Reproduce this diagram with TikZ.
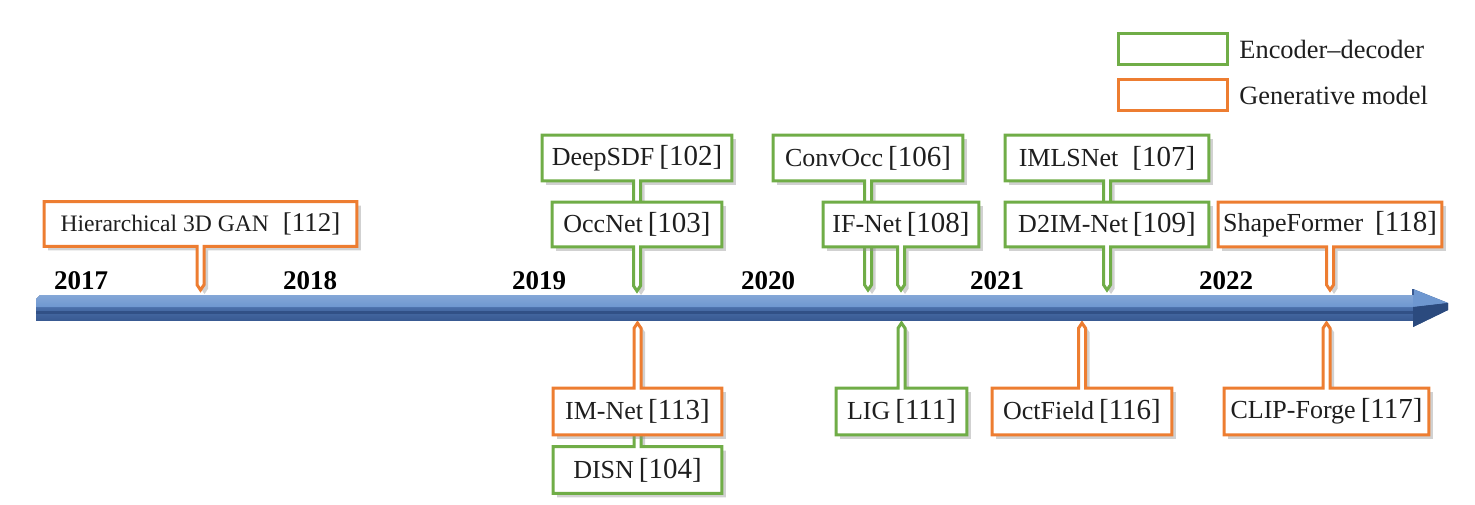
\documentclass[tikz,border=0pt]{standalone}
\usepackage{fontspec}
\setmainfont{Liberation Serif}
\usetikzlibrary{backgrounds,shadows}
\definecolor{cgreen}{HTML}{70AD47}
\definecolor{corange}{HTML}{ED7D31}
\definecolor{blight}{HTML}{6E97D0}
\definecolor{bmid}{HTML}{4A6FAA}
\definecolor{bdark}{HTML}{395A92}
\definecolor{bdeep}{HTML}{2B4A7E}
\definecolor{txt}{HTML}{1E1E1E}
\newcommand\mname[1]{{\fontsize{13}{15}\selectfont #1}}
\newcommand\mref[1]{{\fontsize{14.5}{16}\selectfont #1}}
% callout pointing down: node, colour, tip
\newcommand\calldown[3]{%
  \draw[callout, draw=#2] (#1.north west) -- (#1.north east) -- (#1.south east)
    -- ([xshift=1.75pt]#1.south) -- ([xshift=1.75pt,yshift=2.6pt]#3) -- (#3)
    -- ([xshift=-1.75pt,yshift=2.6pt]#3) -- ([xshift=-1.75pt]#1.south)
    -- (#1.south west) -- cycle;}
% callout pointing up: node, colour, tip
\newcommand\callup[3]{%
  \draw[callout, draw=#2] (#1.south west) -- (#1.south east) -- (#1.north east)
    -- ([xshift=1.75pt]#1.north) -- ([xshift=1.75pt,yshift=-2.6pt]#3) -- (#3)
    -- ([xshift=-1.75pt,yshift=-2.6pt]#3) -- ([xshift=-1.75pt]#1.north)
    -- (#1.north west) -- cycle;}
\begin{document}
\begin{tikzpicture}[x=0.5pt,y=-0.5pt,
  cbox/.style={inner sep=0pt, text=txt},
  callout/.style={line width=1.5pt, fill=white, line join=miter,
    drop shadow={shadow xshift=2pt, shadow yshift=-2pt, fill=black!45, opacity=.4}},
  year/.style={font=\bfseries\fontsize{13.5}{15}\selectfont, text=black, inner sep=0pt},
  legbox/.style={line width=1.5pt, fill=white, minimum width=54.5pt, minimum height=15.5pt, inner sep=0pt},
  legtext/.style={font=\fontsize{13.2}{15}\selectfont, text=txt, anchor=west, inner sep=0pt}]
\useasboundingbox (0,0) rectangle (1475,504);

% ---- timeline arrow ----
\fill[bdark] (36,299) -- (40,295) -- (1413,295) -- (1413,289) -- (1448,303) -- (1448,310)
  -- (1413,327) -- (1413,320) -- (36,320) -- cycle;
\shade[top color=bmid, bottom color=bdark] (36,307) rectangle (1413,320);
\fill[bdeep!60!bdark] (36,311) rectangle (1413,313.5);
\shade[top color=blight!85!white, bottom color=blight] (36,299) -- (40,295) -- (1413,295) -- (1413,307) -- (36,307) -- cycle;
\fill[blight] (1413,289) -- (1448,303) -- (1415,307) -- (1413,307) -- cycle;
\draw[bdark, line width=0.6pt] (1413,289) -- (1413,295);
\fill[bdeep] (1413,307) -- (1448,303) -- (1448,310) -- (1413,327) -- cycle;

% ---- years ----
\node[year] (y2017) at (81,281) {2017};
\node[year] (y2018) at (310,281) {2018};
\node[year] (y2019) at (539,281) {2019};
\node[year] (y2020) at (768,281) {2020};
\node[year] (y2021) at (997,281) {2021};
\node[year] (y2022) at (1226,281) {2022};

% ---- tips on the timeline ----
\coordinate (t-hgan) at (200.5,290);
\coordinate (t-occnet) at (637,291);
\coordinate (t-convocc) at (868,290);
\coordinate (t-ifnet) at (901,290);
\coordinate (t-d2im) at (1107,290);
\coordinate (t-shape) at (1330,290);
\coordinate (t-imnet) at (637.5,323);
\coordinate (t-lig) at (901.5,323);
\coordinate (t-oct) at (1082,323);
\coordinate (t-clip) at (1326.5,323);

% ---- text nodes ----
\node[cbox, minimum width=156pt, minimum height=22pt] (hgan) at (200.5,224)
  {{\fontsize{11.8}{14}\selectfont Hierarchical 3D GAN}\hspace{7pt}{\fontsize{13.5}{15}\selectfont [112]}};
\node[cbox, minimum width=94.5pt, minimum height=22.5pt] (deepsdf) at (637,158) {\mname{DeepSDF} \mref{[102]}};
\node[cbox, minimum width=84.5pt, minimum height=22pt] (occnet) at (637,224.5) {\mname{OccNet} \mref{[103]}};
\node[cbox, minimum width=94.5pt, minimum height=22.5pt] (convocc) at (868,158) {\mname{ConvOcc} \mref{[106]}};
\node[cbox, minimum width=77.5pt, minimum height=22pt] (ifnet) at (901,224.5) {\mname{IF-Net} \mref{[108]}};
\node[cbox, minimum width=101.5pt, minimum height=22.5pt] (imlsnet) at (1107,158) {\mname{IMLSNet}\hspace{7pt}\mref{[107]}};
\node[cbox, minimum width=101.5pt, minimum height=22pt] (d2im) at (1107,224.5) {\mname{D2IM-Net} \mref{[109]}};
\node[cbox, minimum width=111.5pt, minimum height=22pt] (shape) at (1330,224.5) {\mname{ShapeFormer}\hspace{6pt}\mref{[118]}};
\node[cbox, minimum width=84pt, minimum height=23pt] (imnet) at (637.5,411.5) {\mname{IM-Net} \mref{[113]}};
\node[cbox, minimum width=84pt, minimum height=23pt] (disn) at (637.5,470) {\mname{DISN} \mref{[104]}};
\node[cbox, minimum width=65pt, minimum height=23pt] (lig) at (901.5,411.5) {\mname{LIG} \mref{[111]}};
\node[cbox, minimum width=89.5pt, minimum height=23pt] (oct) at (1082,411.5) {\mname{OctField} \mref{[116]}};
\node[cbox, minimum width=102pt, minimum height=23pt] (clip) at (1326.5,411.5) {\mname{CLIP-Forge} \mref{[117]}};

% ---- callout outlines (behind the texts) ----
\begin{pgfonlayer}{background}
\calldown{hgan}{corange}{t-hgan}
\calldown{deepsdf}{cgreen}{occnet.center}
\calldown{occnet}{cgreen}{t-occnet}
\calldown{convocc}{cgreen}{t-convocc}
\calldown{ifnet}{cgreen}{t-ifnet}
\calldown{imlsnet}{cgreen}{d2im.center}
\calldown{d2im}{cgreen}{t-d2im}
\calldown{shape}{corange}{t-shape}
\callup{disn}{cgreen}{imnet.center}
\callup{imnet}{corange}{t-imnet}
\callup{lig}{cgreen}{t-lig}
\callup{oct}{corange}{t-oct}
\callup{clip}{corange}{t-clip}
\end{pgfonlayer}

% ---- legend ----
\node[legbox, draw=cgreen] (leg-enc) at (1173,49) {};
\node[legtext] (leg-enc-t) at (1239,49) {Encoder--decoder};
\node[legbox, draw=corange] (leg-gen) at (1173,95) {};
\node[legtext] (leg-gen-t) at (1239,95) {Generative model};
\end{tikzpicture}
\end{document}
